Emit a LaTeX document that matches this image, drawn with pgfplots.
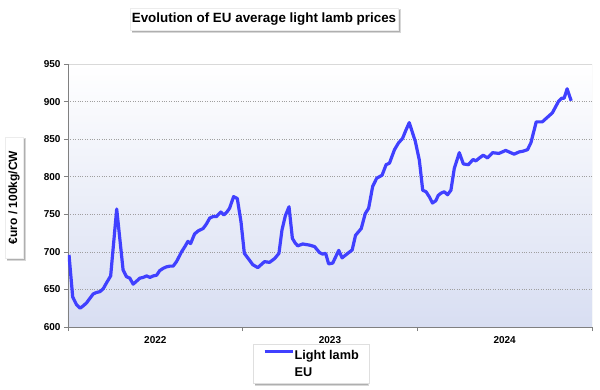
\documentclass[border=0pt]{standalone}
\usepackage{pgfplots}
\pgfplotsset{compat=1.18}
\usepackage{fontspec}
\setmainfont{Liberation Sans}
\definecolor{lamb}{RGB}{64,64,255}
\definecolor{bgbot}{RGB}{216,222,242}
\definecolor{shad}{RGB}{175,175,175}
\begin{document}
\begin{tikzpicture}
\path[use as bounding box] (0pt,0pt) rectangle (600pt,389pt);
% shadows
\fill[shad!50] (131.5pt,356pt) rectangle (401pt,379.5pt);
\fill[shad] (132pt,357pt) rectangle (400pt,379pt);
\fill[shad!50] (6.5pt,128pt) rectangle (26pt,250.5pt);
\fill[shad] (7pt,129pt) rectangle (25pt,250pt);
\fill[shad!50] (254.5pt,3pt) rectangle (369pt,43.5pt);
\fill[shad] (255pt,4pt) rectangle (368pt,43pt);
\begin{axis}[
  at={(68pt,62pt)}, anchor=south west,
  scale only axis, width=524pt, height=263pt,
  xmin=0, xmax=156, ymin=600, ymax=950,
  axis background/.style={shade, top color=white, bottom color=bgbot},
  axis line style={draw=none},
  ytick={600,650,...,950},
  ymajorgrids, major grid style={dotted, gray!75, line width=0.5pt},
  xtick={0,52,104,156}, xticklabels={},
  extra x ticks={26,78,130}, extra x tick labels={2022,2023,2024},
  extra x tick style={major tick length=0pt, grid=none, xticklabel style={yshift=-6pt}},
  tick align=outside, major tick length=4pt,
  xtick pos=bottom, ytick pos=left,
  tick style={gray, line width=0.6pt},
  ticklabel style={font=\bfseries\fontsize{10}{12}\selectfont},
  /pgf/number format/assume math mode=true,
  legend style={at={(0.3525,-0.0665)}, anchor=north west, draw=gray!25, fill=white,
    font=\bfseries\fontsize{12.7}{15}\selectfont, inner xsep=10pt, inner ysep=3.5pt,
    nodes={inner sep=0.5pt, text height=10.5pt, text depth=3.5pt}, row sep=2pt},
  legend cell align=left,
  legend image code/.code={\draw[#1] (0pt,4pt) -- (28pt,4pt);},
]
\draw[gray!30, line width=0.8pt] (rel axis cs:0,1) -- (rel axis cs:1,1) -- (rel axis cs:1,0);
\draw[gray, line width=0.8pt] (rel axis cs:0,1) -- (rel axis cs:0,0) -- (rel axis cs:1,0);
\addplot[lamb, line width=3.2pt, line join=round, mark=none] coordinates {
(0.3,696) (1.4,640) (2.5,630) (3.6,625) (4.5,628) (5.5,632) (6.5,638) (7.5,644) (8.5,646) (9.5,647)
(10.5,651) (11.5,659) (12.7,668) (14.5,757) (16.4,676) (17.4,667) (18.4,665) (19.4,657) (20.4,661)
(21.4,665) (22.4,666) (23.4,668) (24.4,666) (25.4,668) (26.4,669) (27.3,675) (28.3,678) (29.3,680)
(30.3,681) (31.3,681) (32.3,687) (33,693) (33.8,700) (34.8,707) (35.7,714) (36.5,711) (37.7,724)
(38.8,728) (40.2,731) (41.2,737) (42.2,745) (43.2,747) (44.2,747) (45.5,753) (46.4,749) (47.3,753)
(48.1,758) (49.3,773.5) (50.4,771) (51.5,740) (52.5,698) (53.6,691.5) (55,683) (56.5,679) (57.5,683)
(58.5,687) (60,686) (61.5,691) (62.8,698) (63.7,729) (64.7,748) (65.8,760) (66.8,718) (67.6,712)
(68.4,708) (69.9,710.5) (71.9,709) (73.4,707) (74.9,699) (75.8,697) (76.7,698) (77.6,684) (78.8,685)
(80.6,702) (81.6,692) (83,697) (84.6,702.5) (85.6,722) (87.3,731) (88.5,751) (89.5,758) (90.7,787)
(91.9,798) (93.5,802) (94.7,816) (95.7,818) (97.2,836) (98.4,845) (99.6,851) (100.6,862) (101.6,872)
(102.6,858) (103.4,847) (104.6,822) (105.6,782) (106.6,780) (107.6,773) (108.5,765) (109.5,768)
(110.2,775) (111,778) (112,780) (113,776) (114,782) (115,811) (116.5,832) (117.7,817) (119.2,816)
(120.6,823) (121.4,821) (122.5,825) (123.6,828.6) (124.9,825) (126.4,832) (128.3,831) (130.3,835)
(131.3,833) (132.8,830) (134.3,833) (135.5,834) (136.8,836) (137.8,845) (139.4,873) (141.2,873)
(142.7,879) (144.2,885) (146,900) (147,904.5) (147.7,904.5) (148.6,917) (149.8,901)
};
\addlegendentry{Light lamb}
\addlegendimage{empty legend}
\addlegendentry{EU}
\end{axis}
\node[fill=white, draw=gray!15, minimum width=268pt, minimum height=22pt, inner sep=0pt,
  font=\bfseries\fontsize{13.4}{15}\selectfont]
  at (264pt,370pt) {Evolution of EU average light lamb prices};
\node[rotate=90, fill=white, draw=gray!15, minimum width=121pt, minimum height=18pt, inner sep=0pt,
  font=\bfseries\fontsize{12}{14}\selectfont]
  at (14pt,191.5pt) {€uro / 100kg/CW};
\end{tikzpicture}
\end{document}
